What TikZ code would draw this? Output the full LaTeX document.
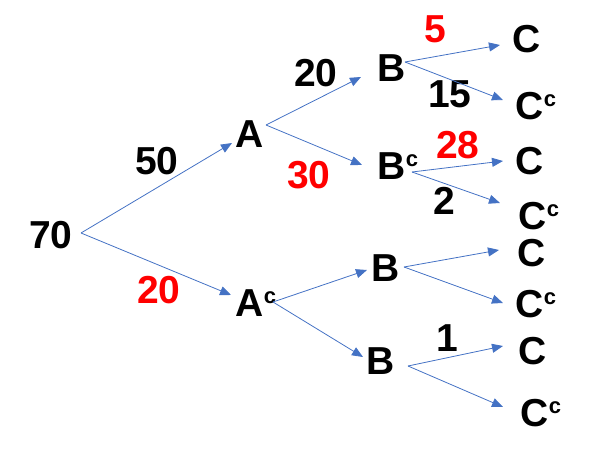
\documentclass[tikz,border=0pt]{standalone}
\usepackage{fontspec}
\setmainfont{Liberation Sans}
\usepackage{xcolor}
\usetikzlibrary{arrows.meta}
\definecolor{edgeblue}{HTML}{4472C4}
\newcommand{\cmp}{\raisebox{13pt}{\fontsize{22}{22}\selectfont c}}

\tikzset{
	ev/.style={inner sep=0pt,font=\fontsize{39}{39}\selectfont\bfseries},
	cnt/.style={ev,black},
	cntred/.style={ev,red},
	br/.style={->,draw=edgeblue,line width=0.8pt}
}

\begin{document}
\begin{tikzpicture}[>={Triangle[length=11pt,width=9pt]},x=1pt,y=-1pt]
		\useasboundingbox (0,0) rectangle (589,454);
		% events
		\node[ev] (tot) at (51,235) {70};
		\node[ev] (A) at (250,134) {A};
		\node[ev] (Ac) at (256,303) {A\cmp};
		\node[ev] (B1) at (392,68) {B};
		\node[ev] (Bc1) at (398,166) {B\cmp};
		\node[ev] (B2) at (386,268) {B};
		\node[ev] (B3) at (381,361) {B};
		\node[ev] (C1) at (527,39) {C};
		\node[ev] (Cc1) at (536,106) {C\cmp};
		\node[ev] (C2) at (530,161) {C};
		\node[ev] (Cc2) at (539,216) {C\cmp};
		\node[ev] (C3) at (532,253) {C};
		\node[ev] (Cc3) at (536,304) {C\cmp};
		\node[ev] (C4) at (533,351) {C};
		\node[ev] (Cc4) at (541,413) {C\cmp};

		% counts
		\node[cnt] (n50) at (157,161) {50};
		\node[cntred] (n20a) at (159,290) {20};
		\node[cnt] (n20b) at (316,73) {20};
		\node[cntred] (n30) at (309,175) {30};
		\node[cntred] (n5) at (435,29) {5};
		\node[cnt] (n15) at (450,94) {15};
		\node[cntred] (n28) at (458,145) {28};
		\node[cnt] (n2) at (444,201) {2};
		\node[cnt] (n1) at (447,338) {1};

		% branches
		\draw[br] ([shift={(30,-2)}]tot.center) -- ([shift={(-18,9)}]A.center);
		\draw[br] ([shift={(30,-2)}]tot.center) -- ([shift={(-25,-8)}]Ac.center);
		\draw[br] ([shift={(16,-9)}]A.center) -- ([shift={(-31,9)}]B1.center);
		\draw[br] ([shift={(16,-9)}]A.center) -- ([shift={(-36,-1)}]Bc1.center);
		\draw[br] ([shift={(17,-1)}]Ac.center) -- ([shift={(-19,2)}]B2.center);
		\draw[br] ([shift={(17,-1)}]Ac.center) -- ([shift={(-18,-4)}]B3.center);

		\draw[br] ([shift={(13,-6)}]B1.center) -- ([shift={(-27,6)}]C1.center);
		\draw[br] ([shift={(13,-6)}]B1.center) -- ([shift={(-33,-6)}]Cc1.center);
		\draw[br] ([shift={(14,6)}]Bc1.center) -- ([shift={(-27,0)}]C2.center);
		\draw[br] ([shift={(14,6)}]Bc1.center) -- ([shift={(-39,-13)}]Cc2.center);
		\draw[br] ([shift={(18,-1)}]B2.center) -- ([shift={(-33,-3)}]C3.center);
		\draw[br] ([shift={(18,-1)}]B2.center) -- ([shift={(-33,-1)}]Cc3.center);
		\draw[br] ([shift={(27,5)}]B3.center) -- ([shift={(-30,-5)}]C4.center);
		\draw[br] ([shift={(27,5)}]B3.center) -- ([shift={(-38,-6)}]Cc4.center);
	\end{tikzpicture}
\end{document}
